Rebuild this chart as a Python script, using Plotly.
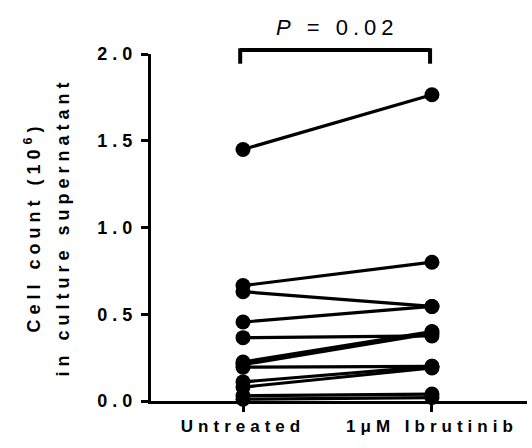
import plotly.graph_objects as go

# ---- data ----
groups = ["Untreated", "1\u03bcM Ibrutinib"]
untreated = [1.45, 0.665, 0.63, 0.455, 0.365, 0.225, 0.21, 0.195, 0.11, 0.08, 0.03, 0.01]
ibrutinib = [1.765, 0.80, 0.545, 0.545, 0.375, 0.40, 0.39, 0.20, 0.20, 0.19, 0.04, 0.02]
y_ticks = [0.0, 0.5, 1.0, 1.5, 2.0]
y_ticklabels = ["0.0", "0.5", "1.0", "1.5", "2.0"]
p_label = "<i>P</i> = 0.02"
y_title_lines = ["Cell count (10<sup>6</sup>)", "in culture supernatant"]

FONT = "Arial, 'Liberation Sans', sans-serif"
xpos = [0, 1]
xmin, xmax = -0.487, 1.503

fig = go.Figure()
for a, b in zip(untreated, ibrutinib):
    fig.add_trace(go.Scatter(
        x=xpos, y=[a, b], mode="lines+markers",
        line=dict(color="black", width=3.2),
        marker=dict(color="black", size=15),
        cliponaxis=False, showlegend=False, hoverinfo="skip",
    ))

def px(xv):
    return (xv - xmin) / (xmax - xmin)

# significance bracket
bx0, bx1 = px(-0.015), px(0.99)
fig.add_shape(type="line", xref="paper", yref="paper", x0=bx0, x1=bx1, y0=1.0115, y1=1.0115,
              line=dict(color="black", width=4))
fig.add_shape(type="line", xref="paper", yref="paper", x0=bx0, x1=bx0, y0=1.0165, y1=0.972,
              line=dict(color="black", width=4))
fig.add_shape(type="line", xref="paper", yref="paper", x0=bx1, x1=bx1, y0=1.0165, y1=0.972,
              line=dict(color="black", width=4))

fig.add_annotation(text=p_label, xref="paper", yref="paper", x=px(0.5), y=1.075,
                   showarrow=False, xanchor="center", yanchor="middle",
                   font=dict(family=FONT, size=22, color="black"))

# y title (two lines)
fig.add_annotation(text=y_title_lines[0], xref="paper", yref="paper", x=(33 - 151) / 376, y=0.5,
                   textangle=-90, showarrow=False, xanchor="center", yanchor="middle",
                   font=dict(family=FONT, size=18, color="black", weight="bold"))
fig.add_annotation(text=y_title_lines[1], xref="paper", yref="paper", x=(62 - 151) / 376, y=0.5,
                   textangle=-90, showarrow=False, xanchor="center", yanchor="middle",
                   font=dict(family=FONT, size=18, color="black", weight="bold"))

fig.update_layout(
    width=532, height=448,
    margin=dict(l=151, r=5, t=54, b=47),
    paper_bgcolor="white", plot_bgcolor="white",
    xaxis=dict(range=[xmin, xmax], tickmode="array", tickvals=xpos, ticktext=groups,
               showline=True, linecolor="black", linewidth=3, ticks="outside",
               ticklen=8, tickwidth=3, tickcolor="black", showgrid=False, zeroline=False,
               automargin=False,
               tickfont=dict(family=FONT, size=17, color="black", weight="bold")),
    yaxis=dict(range=[0, 2.0], tickmode="array", tickvals=y_ticks, ticktext=y_ticklabels,
               showline=True, linecolor="black", linewidth=3, ticks="outside",
               ticklen=7, tickwidth=3, tickcolor="black", showgrid=False, zeroline=False,
               automargin=False,
               tickfont=dict(family=FONT, size=18, color="black", weight="bold")),
)

post = """
document.body.style.margin='0';
document.body.style.overflow='hidden';
var gd = document.getElementById('{plot_id}');
gd.querySelectorAll('.xtick text, .ytick text').forEach(function(e){ e.style.letterSpacing='5px'; });
gd.querySelectorAll('.annotation-text').forEach(function(e){ e.style.letterSpacing='5px'; });
"""
fig.write_html("out.html", post_script=post, config={"displayModeBar": False, "staticPlot": True})
